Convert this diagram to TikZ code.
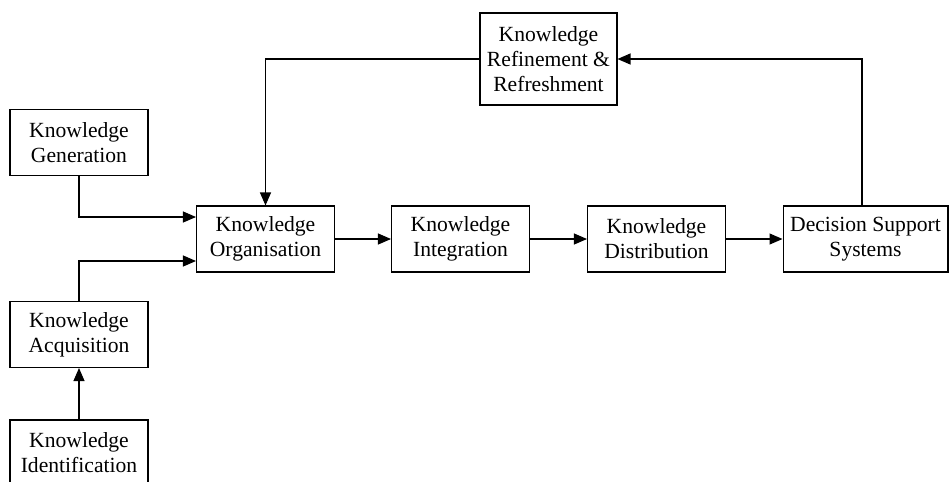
\documentclass[tikz,border=0pt]{standalone}
\usepackage{fontspec}
\setmainfont{Liberation Serif}
\usetikzlibrary{arrows.meta,positioning,calc}

\begin{document}
\begin{tikzpicture}[x=0.02cm, y=-0.02cm, line width=0.6pt,
  every node/.style={font=\fontsize{12.3}{14.2}\selectfont},
  kbox/.style={draw, align=center, inner sep=0pt, minimum width=2.76cm, minimum height=1.32cm},
  >={Triangle[length=0.26cm, width=0.22cm]}]
\useasboundingbox (0,0) rectangle (949,481);
\clip (0,0) rectangle (949,481);
\node[kbox, minimum width=2.74cm, minimum height=1.84cm] (refine) at (548.5,59) {Knowledge\\Refinement \&\\Refreshment};
\node[kbox] (gen) at (79,142.5) {Knowledge\\Generation};
\node[kbox] (org) at (265.5,239) {Knowledge\\Organisation};
\node[kbox] (integ) at (460.5,239) {Knowledge\\Integration};
\node[kbox] (dist) at (656.5,239) {Knowledge\\Distribution};
\node[kbox, minimum width=3.3cm] (dss) at (865.5,239) {Decision Support\\Systems};
\node[kbox] (acq) at (79,334.5) {Knowledge\\Acquisition};
\node[kbox] (ident) at (79,453) {Knowledge\\Identification};
\draw[->] (gen.south) |- ([yshift=0.44cm]org.west);
\draw[->] (acq.north) |- ([yshift=-0.44cm]org.west);
\draw[->] (ident.north) -- (acq.south);
\draw[->] (org) -- (integ);
\draw[->] (integ) -- (dist);
\draw[->] (dist) -- (dss);
\draw[->] ([xshift=-0.07cm]dss.north) |- (refine.east);
\draw[->] (refine.west) -| (org.north);
\end{tikzpicture}
\end{document}
